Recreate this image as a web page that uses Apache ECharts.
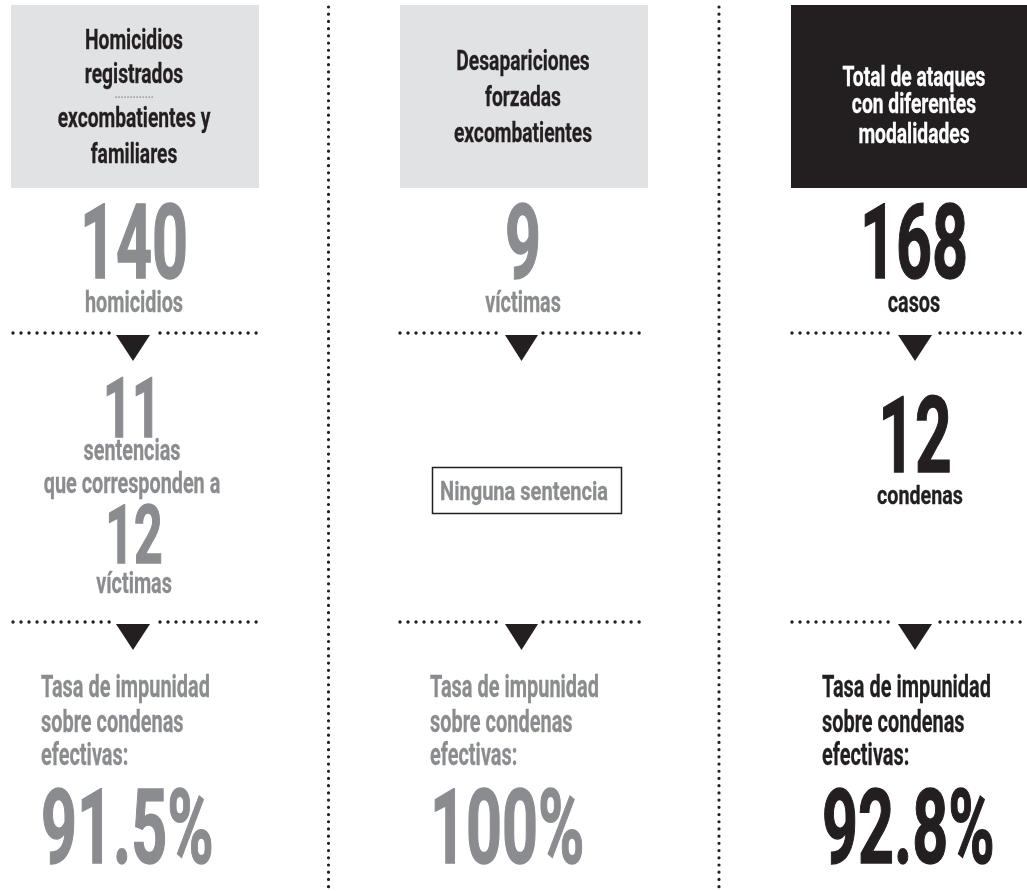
<!DOCTYPE html>
<html>
<head>
<meta charset="utf-8">
<script src="https://cdn.jsdelivr.net/npm/echarts@6/dist/echarts.min.js"></script>
<style>
  html, body { margin: 0; padding: 0; background: #fff; }
  #main { width: 1027px; height: 891px; }
</style>
</head>
<body>
<div id="main"></div>
<script>
// data
const columnTitles = [
  ['Homicidios', 'registrados', 'excombatientes y', 'familiares'],
  ['Desapariciones', 'forzadas', 'excombatientes'],
  ['Total de ataques', 'con diferentes', 'modalidades']
]
const totals = ['140', '9', '168']
const totalUnits = ['homicidios', 'víctimas', 'casos']
const convictionCounts = ['11', '', '12']
const convictionUnits = [['sentencias', 'que corresponden a'], [], ['condenas']]
const victimCounts = ['12', '', '']
const victimUnits = ['víctimas', '', '']
const noSentenceLabels = ['', 'Ninguna sentencia', '']
const impunityLabel = ['Tasa de impunidad', 'sobre condenas', 'efectivas:']
const impunityRates = ['91.5%', '100%', '92.8%']

// layout
const FONT = 'Roboto, "Liberation Sans", sans-serif'
const GREY = '#8b8c8f'
const INK = '#231f20'
const colCenter = [134, 523, 914]
const boxLeft = [11, 400, 791]
const textLeft = [41, 430, 822]
const boxFill = ['#e1e2e3', '#e1e2e3', INK]
const titleFill = [INK, INK, '#ffffff']
const bodyFill = [GREY, GREY, INK]
const titleBaselines = [[49, 83, 127, 163], [70, 106, 142], [86, 113, 143]]
const tasaBaselines = [697, 732, 765]
const ruleY = [333, 622]
const ruleSegs = [[13, 114, 160, 260], [400, 501, 543, 644], [792, 892, 940, 1027]]
const triX = [[116, 150], [505, 538], [898, 932]]

const cvs = document.createElement('canvas')
const ctx = cvs.getContext('2d')
function fontStr(size) { return 'bold ' + size + 'px ' + FONT }
function measure(text, size) {
  ctx.font = fontStr(size)
  ctx.textBaseline = 'alphabetic'
  return ctx.measureText(text).width
}
function midOffset(size) {
  ctx.font = fontStr(size)
  ctx.textBaseline = 'middle'
  return ctx.measureText('H').actualBoundingBoxDescent
}
function fit(text, size, w) { return w / measure(text, size) }

// horizontal squeeze so the sans font looks like the condensed original
const sTitle = fit('Homicidios', 28, 98)
const sBig = fit('140', 103, 108)
const sBody = fit('homicidios', 29, 98)
const sTasa = fit('Tasa de impunidad', 32, 169)

function label(text, x, baseline, size, color, align, sx, weight) {
  return {
    type: 'text',
    x: x,
    y: baseline - midOffset(size),
    scaleX: sx,
    style: {
      text: text, x: 0, y: 0, font: fontStr(size), fill: color,
      stroke: color, lineWidth: weight || 0.3,
      align: align, verticalAlign: 'middle', textAlign: align, textVerticalAlign: 'middle'
    }
  }
}
function dotted(x1, y1, x2, y2, width, gap) {
  return {
    type: 'line',
    shape: { x1: x1, y1: y1, x2: x2, y2: y2 },
    style: { stroke: INK, lineWidth: width, lineDash: [0.01, gap], lineCap: 'round' }
  }
}
function triangle(xs, y) {
  return {
    type: 'polygon',
    shape: { points: [[xs[0], y + 2], [xs[1], y + 2], [(xs[0] + xs[1]) / 2, y + 28]] },
    style: { fill: INK }
  }
}

const elements = []

// vertical separators
elements.push(dotted(328.5, 7, 328.5, 891, 3.2, 7.2))
elements.push(dotted(719, 7, 719, 891, 3.2, 7.2))

for (let i = 0; i < 3; i++) {
  const cx = colCenter[i]
  const fill = bodyFill[i]

  // header box
  elements.push({
    type: 'rect',
    shape: { x: boxLeft[i], y: 5, width: 248, height: 183 },
    style: { fill: boxFill[i] }
  })
  columnTitles[i].forEach(function (line, k) {
    elements.push(label(line, cx, titleBaselines[i][k], 28, titleFill[i], 'center', sTitle, 0.3))
  })
  if (i === 0) elements.push(dotted(116, 97, 155, 97, 1.2, 3))

  // totals
  elements.push(label(totals[i], cx, 278, 103, fill, 'center', sBig, 1.5))
  elements.push(label(totalUnits[i], cx, 312, 29, fill, 'center', sBody))

  // rules with arrows
  ruleY.forEach(function (y) {
    const s = ruleSegs[i]
    elements.push(dotted(s[0], y, s[1], y, 3.4, 8))
    elements.push(dotted(s[2], y, s[3], y, 3.4, 8))
    elements.push(triangle(triX[i], y))
  })

  // middle block
  if (i === 0) {
    elements.push(label(convictionCounts[i], cx - 2, 437, 83, fill, 'center', sBig, 1.5))
    elements.push(label(convictionUnits[i][0], cx - 2, 460, 29, fill, 'center', sBody))
    elements.push(label(convictionUnits[i][1], cx - 2, 493, 29, fill, 'center', sBody))
    elements.push(label(victimCounts[i], cx, 563, 82, fill, 'center', sBig, 1.5))
    elements.push(label(victimUnits[i], cx, 593, 29, fill, 'center', sBody))
  } else if (i === 1) {
    elements.push({
      type: 'rect',
      shape: { x: 432.5, y: 467.5, width: 189, height: 46 },
      style: { fill: 'none', stroke: INK, lineWidth: 1.5 }
    })
    elements.push(label(noSentenceLabels[i], 524, 500, 26, fill, 'center', fit(noSentenceLabels[i], 26, 168)))
  } else {
    elements.push(label(convictionCounts[i], cx + 1, 472, 105, fill, 'center', sBig, 1.5))
    elements.push(label(convictionUnits[i][0], cx + 6, 504, 25, fill, 'center', fit(convictionUnits[i][0], 25, 86)))
  }

  // impunity rate
  impunityLabel.forEach(function (line, k) {
    elements.push(label(line, textLeft[i], tasaBaselines[k], 32, fill, 'left', sTasa))
  })
  elements.push(label(impunityRates[i], textLeft[i], 863, 103, fill, 'left', sBig, 1.5))
}

const chart = echarts.init(document.getElementById('main'), null, { renderer: 'canvas' })
chart.setOption({
  animation: false,
  graphic: { elements: elements }
})
</script>
</body>
</html>
